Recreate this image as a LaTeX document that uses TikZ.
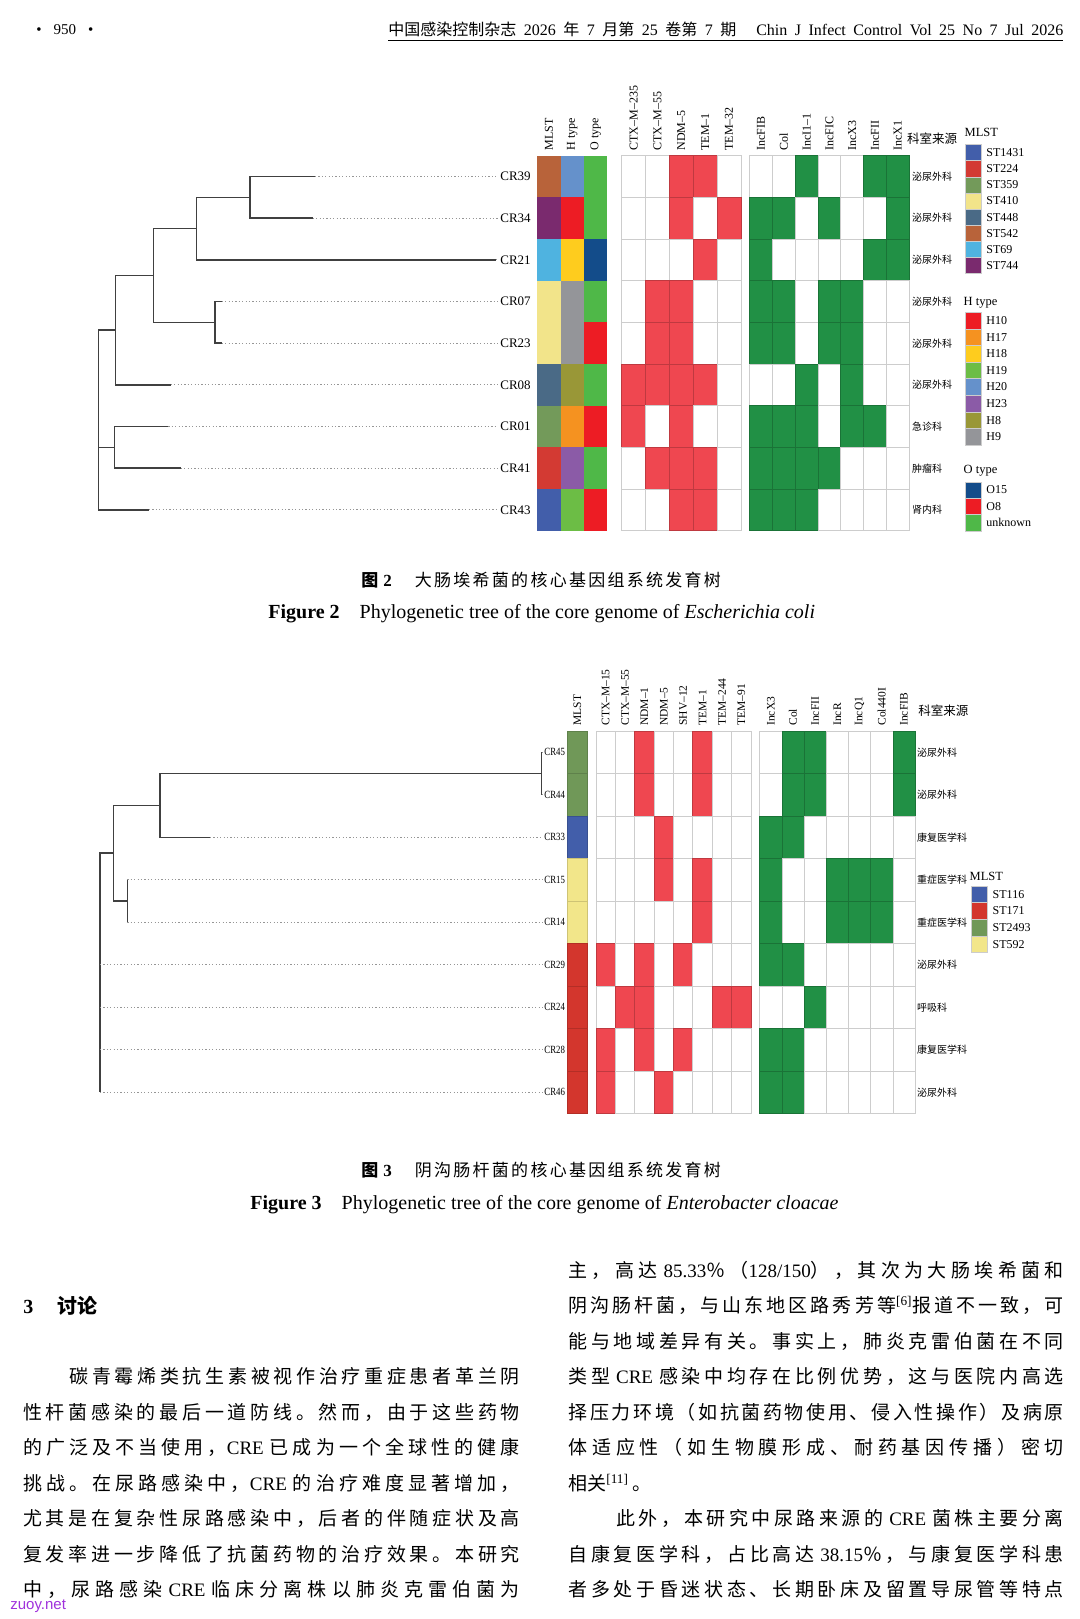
\documentclass[tikz,border=0pt]{standalone}
\usepackage{fontspec}
\setmainfont{Liberation Serif}
\newfontfamily\cjk{Noto Sans CJK SC}
\newfontfamily\sitefont{Liberation Sans}
\usetikzlibrary{positioning}
\newcommand\lat[1]{{\rmfamily #1}}
\newcommand\latsp[1]{\hspace{3pt}{\rmfamily #1}\hspace{3pt}}
% stretchable space between CJK characters, for justified lines
\XeTeXinterchartokenstate=1
\newXeTeXintercharclass\cjkclass
\newcount\cjkcode
\cjkcode="3000
\loop \XeTeXcharclass\cjkcode=\cjkclass \advance\cjkcode by 1 \ifnum\cjkcode<"3040 \repeat
\cjkcode="4E00
\loop \XeTeXcharclass\cjkcode=\cjkclass \advance\cjkcode by 1 \ifnum\cjkcode<"A000 \repeat
\cjkcode="FF00
\loop \XeTeXcharclass\cjkcode=\cjkclass \advance\cjkcode by 1 \ifnum\cjkcode<"FFF0 \repeat
\XeTeXinterchartoks\cjkclass\cjkclass={\hskip 0pt plus 1fil\relax}

\definecolor{treeline}{RGB}{64,64,64}
\definecolor{dotline}{RGB}{150,150,150}
\definecolor{gridline}{RGB}{205,205,205}
\definecolor{genered}{RGB}{239,71,80}
\definecolor{incgreen}{RGB}{33,144,69}
\definecolor{sitepurple}{RGB}{160,50,220}
% MLST, figure 2
\definecolor{cST1431}{RGB}{66,94,170}
\definecolor{cST224}{RGB}{211,58,51}
\definecolor{cST359}{RGB}{115,154,90}
\definecolor{cST410}{RGB}{242,228,138}
\definecolor{cST448}{RGB}{74,106,134}
\definecolor{cST542}{RGB}{184,99,58}
\definecolor{cST69}{RGB}{79,179,224}
\definecolor{cST744}{RGB}{122,42,110}
% H type
\definecolor{cH10}{RGB}{237,28,36}
\definecolor{cH17}{RGB}{245,146,32}
\definecolor{cH18}{RGB}{254,204,30}
\definecolor{cH19}{RGB}{108,189,69}
\definecolor{cH20}{RGB}{101,145,203}
\definecolor{cH23}{RGB}{139,91,167}
\definecolor{cH8}{RGB}{153,151,55}
\definecolor{cH9}{RGB}{148,149,153}
% O type
\definecolor{cO15}{RGB}{19,76,138}
\definecolor{cO8}{RGB}{237,28,36}
\definecolor{cOunk}{RGB}{79,184,72}
% MLST, figure 3
\definecolor{cST116}{RGB}{66,94,170}
\definecolor{cST171}{RGB}{211,54,45}
\definecolor{cST2493}{RGB}{112,152,88}
\definecolor{cST592}{RGB}{242,230,138}

\begin{document}
\begin{tikzpicture}[x=0.5pt, y=-0.5pt,
  branch/.style={draw=treeline, line width=0.75pt},
  leafdots/.style={draw=dotline, line width=0.6pt, dash pattern=on 0.6pt off 1.1pt},
  gcell/.style={line width=0.4pt},
  leaf/.style={font=\fontsize{6.5}{6.5}\selectfont, inner sep=1pt, anchor=west},
  leafsm/.style={font=\fontsize{5.5}{5.5}\selectfont, inner sep=0.5pt, anchor=west},
  collabel/.style={font=\fontsize{6}{6}\selectfont, rotate=90, anchor=west, inner sep=0pt},
  dept/.style={font=\cjk\fontsize{5}{5}\selectfont, anchor=west, inner sep=0pt},
  depthead/.style={font=\cjk\fontsize{6.25}{6.25}\selectfont, anchor=west, inner sep=0pt},
  legtitle/.style={font=\fontsize{6.25}{6.25}\selectfont, anchor=west, inner sep=0pt},
  legtext/.style={font=\fontsize{6}{6}\selectfont, anchor=west, inner sep=0pt},
  swatch/.style={draw=black!20, line width=0.3pt},
  bodytext/.style={anchor=west, inner sep=0pt, font=\cjk\fontsize{9.5}{9.5}\selectfont},
]
\useasboundingbox (0,0) rectangle (1080,1619);
\fill[white] (0,0) rectangle (1080,1619);

% running head
\node[anchor=west, inner sep=0pt, font=\fontsize{7.5}{7.5}\selectfont] (pgno) at (36,30) {\textbullet\hspace{6pt}950\hspace{6pt}\textbullet};
\node[anchor=west, inner sep=0pt, font=\fontsize{8}{8}\selectfont] (jhead) at (388,29) {\XeTeXinterchartokenstate=0 \makebox[337.5pt][s]{{\cjk 中国感染控制杂志} 2026 {\cjk 年} 7 {\cjk 月第} 25 {\cjk 卷第} 7 {\cjk 期}\hspace{10pt}Chin J Infect Control Vol 25 No 7 Jul 2026}};
\coordinate (ulL) at (388,40);
\coordinate (ulR) at (1063,40);
\draw[line width=0.5pt] (ulL) -- (ulR);

%%%%%%%%%%%%%%%% Figure 2 %%%%%%%%%%%%%%%%
% tree
\draw[branch] (115.7,330.2) -| (98.3,509.9) -- (149,509.9);
\draw[branch] (98.3,447.4) -- (114.3,447.4);
\draw[branch] (168.3,426.5) -| (114.3,468.2) -- (180.7,468.2);
\draw[branch] (153.3,275.5) -| (115.7,384.9) -- (170.7,384.9);
\draw[branch] (196.7,228.6) -| (153.3,322.35) -- (215,322.35);
\draw[branch] (221.7,301.5) -| (215,343.2) -- (221.7,343.2);
\draw[branch] (250,197.35) -| (196.7,259.9) -- (496,259.9);
\draw[branch] (315,176.5) -| (250,218.2) -- (312.7,218.2);
\foreach \n/\tip [count=\i from 0] in {CR39/315, CR34/312.7, CR21/496, CR07/221.7, CR23/221.7, CR08/170.7, CR01/168.3, CR41/180.7, CR43/149}{
  \node[leaf] (\n) at (498,176.5+41.67*\i) {\n};
  \draw[leafdots] (\tip,176.5+41.67*\i) -- (\n.west);
}

% MLST / H type / O type strips
\foreach \m/\h/\o [count=\i from 0] in {ST542/H20/Ounk, ST744/H10/Ounk, ST69/H18/O15, ST410/H9/Ounk, ST410/H9/O8, ST448/H8/Ounk, ST359/H17/O8, ST224/H23/Ounk, ST1431/H19/O8}{
  \fill[c\m] (537.3,155.7+41.67*\i) rectangle ++(23.33,41.67);
  \fill[c\h] (560.63,155.7+41.67*\i) rectangle ++(23.33,41.67);
  \fill[c\o] (583.96,155.7+41.67*\i) rectangle ++(23.34,41.67);
}
\foreach \t [count=\j from 0] in {MLST, H type, O type}
  \node[collabel] at (548.97+23.33*\j,151) {\t};

% resistance genes
\foreach \row [count=\i from 0] in {{0,0,1,1,0},{0,0,1,0,1},{0,0,0,1,0},{0,1,1,0,0},{0,1,1,0,0},{1,1,1,1,0},{1,0,1,0,0},{0,1,1,1,0},{0,0,1,1,0}}{
  \foreach \v [count=\j from 0] in \row {
    \ifnum\v=1 \def\cc{genered}\def\ec{genered!80!black}\else\def\cc{white}\def\ec{gridline}\fi
    \filldraw[gcell, fill=\cc, draw=\ec] (621.7+23.87*\j,155.7+41.67*\i) rectangle ++(23.87,41.67);
  }
}
\foreach \t [count=\j from 0] in {CTX–M–235, CTX–M–55, NDM–5, TEM–1, TEM–32}
  \node[collabel] at (633.6+23.87*\j,151) {\t};

% plasmid replicons
\foreach \row [count=\i from 0] in {{0,0,1,0,0,1,1},{1,1,0,1,0,0,1},{1,0,0,0,0,1,1},{1,1,0,1,1,0,0},{1,1,0,1,1,0,0},{0,0,1,0,1,0,0},{1,1,1,0,1,1,0},{1,1,1,1,0,0,0},{1,1,1,0,0,0,0}}{
  \foreach \v [count=\j from 0] in \row {
    \ifnum\v=1 \def\cc{incgreen}\def\ec{incgreen!80!black}\else\def\cc{white}\def\ec{gridline}\fi
    \filldraw[gcell, fill=\cc, draw=\ec] (749.7+22.76*\j,155.7+41.67*\i) rectangle ++(22.76,41.67);
  }
}
\foreach \t [count=\j from 0] in {IncFIB, Col, IncI1–1, IncFIC, IncX3, IncFII, IncX1}
  \node[collabel] at (761.1+22.76*\j,151) {\t};

% departments
\node[depthead] (dhead2) at (906.7,138.3) {科室来源};
\foreach \d [count=\i from 0] in {泌尿外科,泌尿外科,泌尿外科,泌尿外科,泌尿外科,泌尿外科,急诊科,肿瘤科,肾内科}
  \node[dept] at (911.7,176.5+41.67*\i) {\d};

% legends
\node[legtitle] (key2a) at (964.3,132.3) {MLST};
\foreach \s [count=\k from 0] in {ST1431,ST224,ST359,ST410,ST448,ST542,ST69,ST744}{
  \filldraw[swatch, fill=c\s] (965,144.6+16.1*\k) rectangle ++(16.7,16.1);
  \node[legtext] at (986,152.7+16.1*\k) {\s};
}
\node[legtitle] (key2b) at (963.3,302.7) {H type};
\foreach \s [count=\k from 0] in {H10,H17,H18,H19,H20,H23,H8,H9}{
  \filldraw[swatch, fill=c\s] (965,312.4+16.57*\k) rectangle ++(16.7,16.57);
  \node[legtext] at (986,320.7+16.57*\k) {\s};
}
\node[legtitle] (key2c) at (963.3,471) {O type};
\foreach \s/\t [count=\k from 0] in {O15/O15, O8/O8, Ounk/unknown}{
  \filldraw[swatch, fill=c\s] (965,481.8+16.4*\k) rectangle ++(16.7,16.4);
  \node[legtext] at (986,490+16.4*\k) {\t};
}

% caption
\node[anchor=west, inner sep=0pt, font=\fontsize{8.5}{8.5}\selectfont] (cap2cn) at (361,580) {{\cjk\bfseries 图}\hspace{2.5pt}{\bfseries 2}\hspace{11.5pt}\makebox[153pt][s]{\cjk 大肠埃希菌的核心基因组系统发育树}};
\node[anchor=west, inner sep=0pt, font=\fontsize{10}{10}\selectfont] (cap2en) at (268,614) {{\bfseries Figure 2}\hspace{10pt}Phylogenetic tree of the core genome of \textit{Escherichia coli}};

%%%%%%%%%%%%%%%% Figure 3 %%%%%%%%%%%%%%%%
% tree
\draw[branch] (113.3,853.2) -| (100,1092.25);
\draw[branch] (160,805.4) -| (113.3,901) -- (127.3,901);
\draw[branch] (127.3,879.75) -- (127.3,922.25);
\draw[branch] (541.7,773.5) -| (160,837.25) -- (210,837.25);
\draw[branch] (541.7,752.25) -- (541.7,794.75);
\foreach \n/\tip [count=\i from 0] in {CR45/541.7, CR44/541.7, CR33/210, CR15/127.3, CR14/127.3, CR29/100, CR24/100, CR28/100, CR46/100}{
  \node[leafsm] (\n) at (543,752.25+42.5*\i) {\scalebox{0.8}[1]{\n}};
  \draw[leafdots] (\tip,752.25+42.5*\i) -- (\n.west);
}

% MLST strip
\foreach \m [count=\i from 0] in {ST2493,ST2493,ST116,ST592,ST592,ST171,ST171,ST171,ST171}
  \filldraw[fill=c\m, draw=c\m!85!black, line width=0.3pt] (567.3,731+42.5*\i) rectangle ++(20,42.5);
\node[collabel, font=\fontsize{5.75}{5.75}\selectfont] at (577.3,726) {MLST};

% resistance genes
\foreach \row [count=\i from 0] in {{0,0,1,0,0,1,0,0},{0,0,1,0,0,1,0,0},{0,0,0,1,0,0,0,0},{0,0,0,1,0,1,0,0},{0,0,0,0,0,1,0,0},{1,0,1,0,1,0,0,0},{0,1,1,0,0,0,1,1},{1,0,1,0,1,0,0,0},{1,0,0,1,0,0,0,0}}{
  \foreach \v [count=\j from 0] in \row {
    \ifnum\v=1 \def\cc{genered}\def\ec{genered!80!black}\else\def\cc{white}\def\ec{gridline}\fi
    \filldraw[gcell, fill=\cc, draw=\ec] (596+19.375*\j,731+42.5*\i) rectangle ++(19.375,42.5);
  }
}
\foreach \t [count=\j from 0] in {CTX–M–15, CTX–M–55, NDM–1, NDM–5, SHV–12, TEM–1, TEM–244, TEM–91}
  \node[collabel, font=\fontsize{5.75}{5.75}\selectfont] at (605.7+19.375*\j,726) {\t};

% plasmid replicons
\foreach \row [count=\i from 0] in {{0,1,1,0,0,0,1},{0,1,1,0,0,0,1},{1,1,0,0,0,0,0},{1,0,0,1,1,1,0},{1,0,0,1,1,1,0},{1,1,0,0,0,0,0},{0,0,1,0,0,0,0},{1,1,0,0,0,0,0},{1,1,0,0,0,0,0}}{
  \foreach \v [count=\j from 0] in \row {
    \ifnum\v=1 \def\cc{incgreen}\def\ec{incgreen!80!black}\else\def\cc{white}\def\ec{gridline}\fi
    \filldraw[gcell, fill=\cc, draw=\ec] (759.7+22.2*\j,731+42.5*\i) rectangle ++(22.2,42.5);
  }
}
\foreach \t [count=\j from 0] in {IncX3, Col, IncFII, IncR, IncQ1, Col440I, IncFIB}
  \node[collabel, font=\fontsize{5.75}{5.75}\selectfont] at (770.8+22.2*\j,726) {\t};

% departments
\node[depthead] (dhead3) at (918,711) {科室来源};
\foreach \d [count=\i from 0] in {泌尿外科,泌尿外科,康复医学科,重症医学科,重症医学科,泌尿外科,呼吸科,康复医学科,泌尿外科}
  \node[dept] at (916.7,752.25+42.5*\i) {\d};

% legend
\node[legtitle] (key3) at (969.3,876.7) {MLST};
\foreach \s [count=\k from 0] in {ST116,ST171,ST2493,ST592}{
  \filldraw[swatch, fill=c\s] (971.7,886+16.6*\k) rectangle ++(15.6,16.6);
  \node[legtext] at (992.3,894.3+16.6*\k) {\s};
}

% caption
\node[anchor=west, inner sep=0pt, font=\fontsize{8.5}{8.5}\selectfont] (cap3cn) at (361,1170) {{\cjk\bfseries 图}\hspace{2.5pt}{\bfseries 3}\hspace{11.5pt}\makebox[153pt][s]{\cjk 阴沟肠杆菌的核心基因组系统发育树}};
\node[anchor=west, inner sep=0pt, font=\fontsize{10}{10}\selectfont] (cap3en) at (250,1205) {{\bfseries Figure 3}\hspace{10pt}Phylogenetic tree of the core genome of \textit{Enterobacter cloacae}};

%%%%%%%%%%%%%%%% body text %%%%%%%%%%%%%%%%
\node[anchor=west, inner sep=0pt, font=\fontsize{10}{10}\selectfont] (sec3) at (23,1305.5) {{\bfseries 3}\hspace{12pt}{\cjk\bfseries 讨论}};
\node[bodytext] (l1) at (69,1376.5) {\makebox[225.2pt][s]{碳青霉烯类抗生素被视作治疗重症患者革兰阴}};
\node[bodytext] (l2) at (22.7,1412) {\makebox[248.35pt][s]{性杆菌感染的最后一道防线。然而，由于这些药物}};
\node[bodytext] (l3) at (22.7,1447.5) {\makebox[248.35pt][s]{的广泛及不当使用，\lat{CRE}\hspace{3pt}已成为一个全球性的健康}};
\node[bodytext] (l4) at (22.7,1483) {\makebox[248.35pt][s]{挑战。在尿路感染中，\lat{CRE}\hspace{3pt}的治疗难度显著增加，}};
\node[bodytext] (l5) at (22.7,1518.5) {\makebox[248.35pt][s]{尤其是在复杂性尿路感染中，后者的伴随症状及高}};
\node[bodytext] (l6) at (22.7,1554) {\makebox[248.35pt][s]{复发率进一步降低了抗菌药物的治疗效果。本研究}};
\node[bodytext] (l7) at (22.7,1589.5) {\makebox[248.35pt][s]{中，尿路感染\latsp{CRE}临床分离株以肺炎克雷伯菌为}};

\node[bodytext] (r1) at (568,1270) {\makebox[247.75pt][s]{主，高达\hspace{3pt}\lat{85.33}％（\lat{128/150}），其次为大肠埃希菌和}};
\node[bodytext] (r2) at (568,1305.5) {\makebox[247.75pt][s]{阴沟肠杆菌，与山东地区路秀芳等\textsuperscript{\lat{[6]}}报道不一致，可}};
\node[bodytext] (r3) at (568,1341) {\makebox[247.75pt][s]{能与地域差异有关。事实上，肺炎克雷伯菌在不同}};
\node[bodytext] (r4) at (568,1376.5) {\makebox[247.75pt][s]{类型\latsp{CRE}感染中均存在比例优势，这与医院内高选}};
\node[bodytext] (r5) at (568,1412) {\makebox[247.75pt][s]{择压力环境（如抗菌药物使用、侵入性操作）及病原}};
\node[bodytext] (r6) at (568,1447.5) {\makebox[247.75pt][s]{体适应性（如生物膜形成、耐药基因传播）密切}};
\node[bodytext] (r7) at (568,1483) {相关\textsuperscript{\lat{[11]}}\,。};
\node[bodytext] (r8) at (616,1518.5) {\makebox[223.75pt][s]{此外，本研究中尿路来源的\latsp{CRE}菌株主要分离}};
\node[bodytext] (r9) at (568,1554) {\makebox[247.75pt][s]{自康复医学科，占比高达\hspace{3pt}\lat{38.15}％，与康复医学科患}};
\node[bodytext] (r10) at (568,1589.5) {\makebox[247.75pt][s]{者多处于昏迷状态、长期卧床及留置导尿管等特点}};

% site mark
\node[anchor=west, inner sep=0pt, text=sitepurple, font=\sitefont\fontsize{7.5}{7.5}\selectfont] (site) at (10,1606) {zuoy.net};
\end{tikzpicture}
\end{document}
